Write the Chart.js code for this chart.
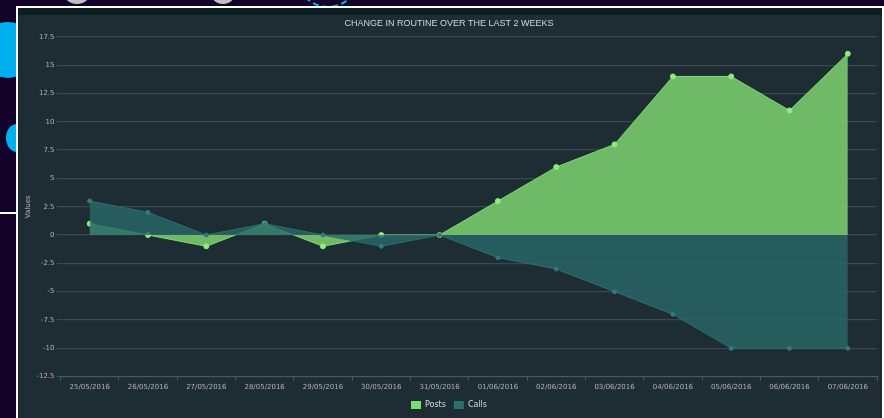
<!DOCTYPE html>
<html>
<head>
<meta charset="utf-8">
<script src="https://cdn.jsdelivr.net/npm/chart.js@4"></script>
<style>
  html, body { margin: 0; padding: 0; }
  body { width: 884px; height: 418px; background: #13022a; position: relative; overflow: hidden; font-family: 'DejaVu Sans', sans-serif; }
  .deco { position: absolute; border-radius: 50%; }
  .panel { position: absolute; left: 16px; top: 6px; width: 864px; height: 414px; border: 2px solid #fff; border-bottom: none; background: #1e2d33; }
  .panel .strip { position: absolute; left: 0; top: 0; right: 0; height: 7px; background: #0a1f21; }
  .panel .wrap { position: absolute; left: 0; top: 7px; width: 864px; height: 404px; }
</style>
</head>
<body>
<div class="deco" style="left:-20px;top:22px;width:56px;height:56px;background:#00b0ee"></div>
<div class="deco" style="left:6px;top:124px;width:22px;height:28px;background:#00b0ee"></div>
<div class="deco" style="left:62px;top:-26px;width:30px;height:30px;background:#c0c0c0"></div>
<div class="deco" style="left:209px;top:-26px;width:28px;height:30px;background:#c0c0c0"></div>
<div class="deco" style="left:300px;top:-40px;width:52px;height:44px;border:2px dashed #1aa8f0"></div>
<div style="position:absolute;left:0;top:212px;width:16px;height:2px;background:#fff"></div>
<div class="panel">
  <div class="strip"></div>
  <div class="wrap"><canvas id="chart" width="864" height="404"></canvas></div>
</div>
<script>
  // dates of the last two weeks
  const days = ['25/05/2016', '26/05/2016', '27/05/2016', '28/05/2016', '29/05/2016', '30/05/2016', '31/05/2016',
    '01/06/2016', '02/06/2016', '03/06/2016', '04/06/2016', '05/06/2016', '06/06/2016', '07/06/2016'];
  const posts = [1, 0, -1, 1, -1, 0, 0, 3, 6, 8, 14, 14, 11, 16];
  const calls = [3, 2, 0, 1, 0, -1, 0, -2, -3, -5, -7, -10, -10, -10];
  const yMin = -12.5, yMax = 17.5, yStep = 2.5;

  const txt = '#a9b4b8';
  const grid = '#3a494f';
  const postsColor = '#7fdc6e';
  const callsColor = '#2b6f6e';

  new Chart(document.getElementById('chart'), {
    type: 'line',
    data: {
      labels: days,
      datasets: [
        {
          label: 'Posts',
          data: posts,
          order: 1, // drawn under calls
          fill: 'origin',
          borderColor: postsColor,
          backgroundColor: 'rgba(116,194,106,0.95)',
          borderWidth: 1,
          pointRadius: 2.5,
          pointBackgroundColor: '#8fec7c',
          pointBorderColor: '#8fec7c',
          tension: 0,
        },
        {
          label: 'Calls',
          data: calls,
          order: 0,
          fill: 'origin',
          borderColor: callsColor,
          backgroundColor: 'rgba(40,104,104,0.8)',
          borderWidth: 1,
          pointRadius: 2,
          pointBackgroundColor: '#2f7b79',
          pointBorderColor: '#2f7b79',
          tension: 0,
        },
      ],
    },
    options: {
      responsive: false,
      animation: false,
      layout: { padding: { left: 2, right: 4, top: 0, bottom: 0 } },
      plugins: {
        title: {
          display: true,
          text: 'CHANGE IN ROUTINE OVER THE LAST 2 WEEKS',
          color: '#cfd6d8',
          font: { size: 9, weight: 'normal', family: 'Liberation Sans' },
          padding: { top: 3, bottom: 8 },
        },
        legend: {
          position: 'bottom',
          labels: {
            color: '#d6dcde',
            boxWidth: 10,
            boxHeight: 8,
            padding: 8,
            font: { size: 8, family: 'DejaVu Sans' },
            generateLabels: (chart) => chart.data.datasets.map((ds, i) => ({
              text: ds.label,
              fillStyle: i === 0 ? postsColor : callsColor,
              strokeStyle: i === 0 ? postsColor : callsColor,
              lineWidth: 0,
              fontColor: '#d6dcde',
              datasetIndex: i,
            })),
          },
        },
        tooltip: { enabled: false },
      },
      scales: {
        x: {
          offset: true,
          grid: { offset: true, drawOnChartArea: false, drawTicks: true, tickLength: 4, color: '#4a5a60' },
          border: { display: true, color: '#4a5a60' },
          ticks: { color: txt, font: { size: 7, family: 'DejaVu Sans' }, maxRotation: 0, padding: 2 },
        },
        y: {
          min: yMin,
          max: yMax,
          title: { display: true, text: 'Values', color: txt, font: { size: 7, family: 'DejaVu Sans' }, padding: { bottom: 2 } },
          grid: { color: grid, lineWidth: 1.2, drawTicks: true, tickLength: 4 },
          border: { display: false },
          ticks: { stepSize: yStep, color: txt, font: { size: 7, family: 'DejaVu Sans' }, padding: 2 },
        },
      },
    },
  });
</script>
</body>
</html>
